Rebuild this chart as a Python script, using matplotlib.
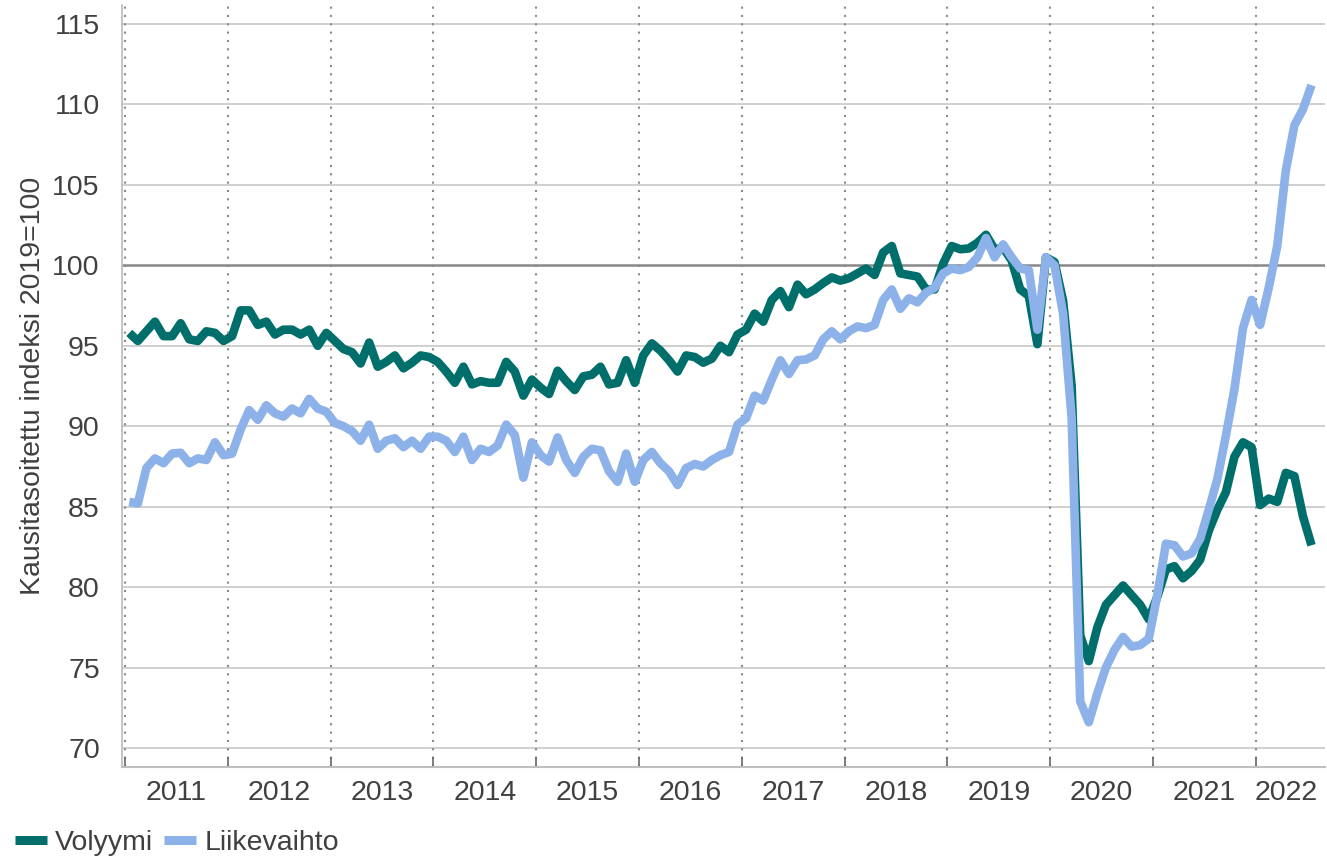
import matplotlib
matplotlib.use("Agg")
import matplotlib.pyplot as plt
import numpy as np

plt.rcParams['font.family'] = ['Liberation Sans', 'DejaVu Sans']

# Monthly data, Jan 2011 - Jul 2022 (seasonally adjusted index, 2019=100)
years = [2011, 2012, 2013, 2014, 2015, 2016, 2017, 2018, 2019, 2020, 2021, 2022]

volyymi = [
    95.8, 95.3, 95.9, 96.5, 95.6, 95.6, 96.4, 95.4, 95.3, 95.9, 95.8, 95.3,   # 2011
    95.6, 97.2, 97.2, 96.3, 96.5, 95.7, 96.0, 96.0, 95.7, 96.0, 95.0, 95.8,   # 2012
    95.3, 94.8, 94.6, 93.9, 95.2, 93.7, 94.0, 94.4, 93.6, 93.95, 94.4, 94.3,  # 2013
    94.0, 93.4, 92.7, 93.7, 92.6, 92.8, 92.7, 92.7, 94.0, 93.4, 91.9, 92.9,   # 2014
    92.4, 92.0, 93.45, 92.8, 92.25, 93.1, 93.2, 93.7, 92.6, 92.7, 94.1, 92.7, # 2015
    94.4, 95.15, 94.7, 94.1, 93.4, 94.4, 94.3, 93.95, 94.2, 95.0, 94.6, 95.7, # 2016
    96.0, 97.0, 96.5, 97.85, 98.4, 97.4, 98.8, 98.2, 98.5, 98.9, 99.25, 99.05,  # 2017
    99.2, 99.5, 99.8, 99.4, 100.8, 101.2, 99.5, 99.4, 99.3, 98.5, 98.5, 100.1,  # 2018
    101.2, 101.0, 101.05, 101.4, 101.9, 101.0, 101.1, 100.3, 98.5, 98.1, 95.1, 100.5,  # 2019
    100.2, 97.8, 92.5, 77.0, 75.4, 77.5, 78.9, 79.5, 80.1, 79.5, 78.9, 78.0,  # 2020
    79.4, 81.1, 81.3, 80.55, 81.0, 81.7, 83.5, 84.8, 85.9, 88.1, 89.0, 88.7,  # 2021
    85.1, 85.5, 85.3, 87.1, 86.9, 84.4, 82.6,                                  # 2022
]

liikevaihto = [
    85.3, 85.2, 87.4, 88.0, 87.7, 88.3, 88.35, 87.7, 88.0, 87.9, 89.0, 88.2,  # 2011
    88.3, 89.8, 91.0, 90.4, 91.3, 90.8, 90.6, 91.1, 90.8, 91.7, 91.1, 90.9,   # 2012
    90.2, 90.0, 89.7, 89.1, 90.1, 88.6, 89.1, 89.25, 88.7, 89.1, 88.6, 89.35, # 2013
    89.35, 89.1, 88.4, 89.35, 87.9, 88.6, 88.4, 88.8, 90.1, 89.45, 86.8, 89.0,  # 2014
    88.2, 87.8, 89.3, 87.9, 87.1, 88.1, 88.6, 88.5, 87.2, 86.55, 88.3, 86.55,   # 2015
    87.9, 88.4, 87.7, 87.2, 86.35, 87.4, 87.65, 87.5, 87.9, 88.2, 88.4, 90.1,   # 2016
    90.5, 91.9, 91.6, 92.9, 94.1, 93.25, 94.1, 94.15, 94.4, 95.4, 95.9, 95.4,   # 2017
    95.9, 96.2, 96.1, 96.3, 97.85, 98.5, 97.3, 97.95, 97.7, 98.3, 98.6, 99.5,   # 2018
    99.8, 99.7, 99.9, 100.5, 101.7, 100.5, 101.3, 100.5, 99.8, 99.7, 96.0, 100.5,  # 2019
    100.0, 97.0, 90.5, 72.9, 71.6, 73.4, 75.0, 76.1, 76.9, 76.3, 76.4, 76.8,  # 2020
    79.5, 82.7, 82.6, 81.9, 82.1, 83.0, 84.8, 86.7, 89.4, 92.3, 96.1, 97.85,  # 2021
    96.3, 98.6, 101.2, 105.9, 108.7, 109.7, 111.2,                             # 2022
]

series_labels = ["Volyymi", "Liikevaihto"]
ylabel = "Kausitasoitettu indeksi 2019=100"
yticks = [70, 75, 80, 85, 90, 95, 100, 105, 110, 115]

teal = "#006f6b"
blue = "#8db1e9"
text_col = "#404040"
fs = 20.5

W, H = 1327, 859
fig = plt.figure(figsize=(W / 100, H / 100), dpi=100)
ax_l, ax_r, ax_t, ax_b = 122, 1325, 5, 767
ax = fig.add_axes([ax_l / W, 1 - ax_b / H, (ax_r - ax_l) / W, (ax_b - ax_t) / H])

n = len(volyymi)
x = np.arange(n)

# grid
for v in yticks:
    if v == 100:
        ax.axhline(v, color="#888888", lw=1.8, zorder=1)
    else:
        ax.axhline(v, color="#cccccc", lw=1.3, zorder=1)
bounds = [-0.5 + 12 * k for k in range(len(years))]
for b in bounds:
    ax.axvline(b, color="#8a8a8a", lw=1.5, ls=(0, (1, 3)), zorder=1)

lw = 6.2
ax.plot(x, volyymi, color=teal, lw=lw, solid_joinstyle="round", solid_capstyle="butt", zorder=3, label=series_labels[0])
ax.plot(x, liikevaihto, color=blue, lw=lw, solid_joinstyle="round", solid_capstyle="butt", zorder=4, label=series_labels[1])

px_per_month = 8.567
ax.set_xlim(-0.5 - 3 / px_per_month, -0.5 + (ax_r - 125) / px_per_month)
ppu = 16.089
ax.set_ylim(70 - (ax_b - 748) / ppu, 115 + (24 - ax_t) / ppu)

ax.set_yticks(yticks)
ax.set_yticklabels([str(v) for v in yticks])
ax.tick_params(axis="y", length=0, pad=16, labelsize=fs, labelcolor=text_col)

ax.set_xticks(bounds)
ax.set_xticklabels([])
ax.tick_params(axis="x", which="major", direction="in", length=7, width=1.2, color="#666666")
centers = []
for k in range(len(years)):
    start = 12 * k
    end = min(12 * k + 11, n - 1)
    centers.append((start + end) / 2)
ax.set_xticks(centers, minor=True)
ax.set_xticklabels([str(y) for y in years], minor=True)
ax.tick_params(axis="x", which="minor", length=0, pad=9, labelsize=fs, labelcolor=text_col)

for s in ["top", "right"]:
    ax.spines[s].set_visible(False)
ax.spines["left"].set_color("#bfbfbf")
ax.spines["left"].set_linewidth(1.3)
ax.spines["bottom"].set_color("#bfbfbf")
ax.spines["bottom"].set_linewidth(1.5)

fig.text(33 / W, 1 - 386 / H, ylabel, rotation=90, ha="center", va="center", fontsize=fs, color=text_col)

leg = fig.legend(loc="center left", bbox_to_anchor=(15 / W, 1 - 843 / H), ncol=2, frameon=False,
                 fontsize=fs, handlelength=1.12, handletextpad=0.28, columnspacing=0.4,
                 borderaxespad=0, borderpad=0)
for t in leg.get_texts():
    t.set_color(text_col)
for l in leg.get_lines():
    l.set_linewidth(6.5)

fig.savefig("out.png", dpi=100)
